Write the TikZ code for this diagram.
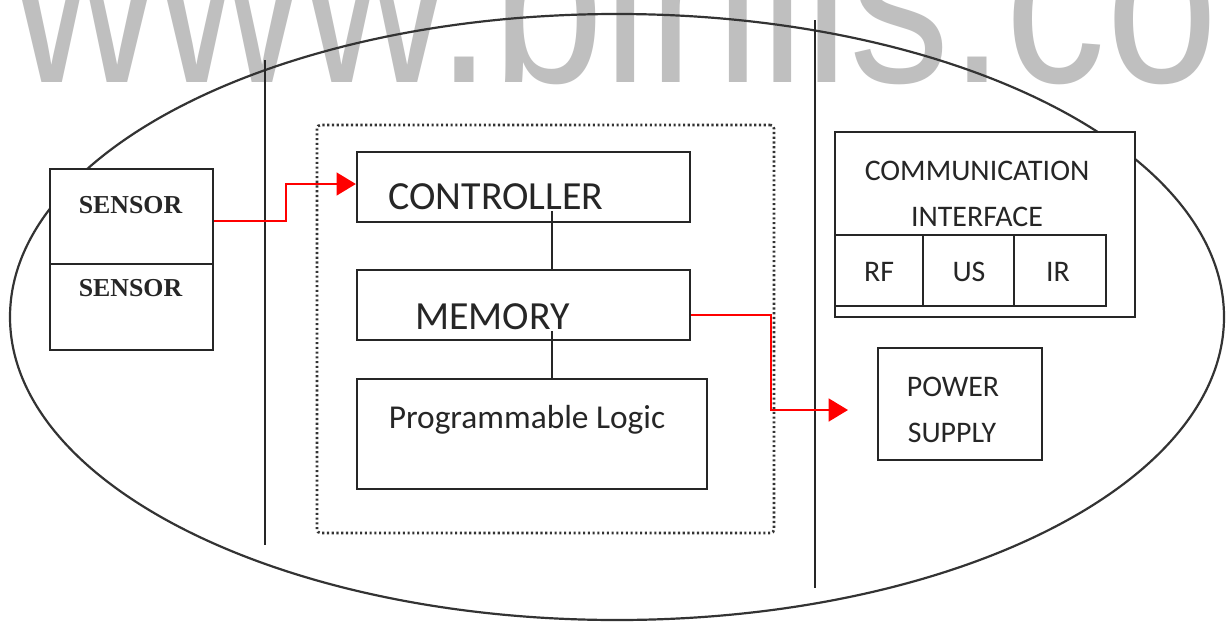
\documentclass[tikz,border=0pt]{standalone}
\usepackage{fontspec}
\setmainfont{Carlito}
\newfontfamily\wmfont{Liberation Sans}
\newfontfamily\sensfont{Liberation Serif}
\usetikzlibrary{arrows.meta,fit}
\newlength\pxu
\setlength\pxu{0.02cm}
\begin{document}
\begin{tikzpicture}[x=0.02cm,y=-0.02cm,
  box/.style={draw=black!85, line width=1.3pt, fill=white, inner sep=0pt},
  dotbox/.style={draw=black!80, line width=1.5pt, dash pattern=on 1.2pt off 1.5pt, rounded corners=2pt, inner sep=0pt},
  ell/.style={draw=black!80, line width=1.25pt},
  divider/.style={draw=black!85, line width=0.9pt},
  conn/.style={draw=black!85, line width=1pt},
  redarrow/.style={draw=red, line width=1.2pt, -{Triangle[length=11pt,width=13pt]}},
  txt/.style={text=black!85, inner sep=0pt, anchor=base},
  bigtxt/.style={txt, font=\fontsize{22.7}{27}\selectfont},
  pltxt/.style={txt, font=\fontsize{19}{23}\selectfont},
  smtxt/.style={txt, font=\fontsize{17}{20}\selectfont},
  senstxt/.style={txt, font=\sensfont\bfseries\fontsize{14.7}{17}\selectfont},
  wm/.style={text=black!25, inner sep=0pt, anchor=base west, font=\wmfont\fontsize{111}{120}\selectfont}
]
\useasboundingbox (0,0) rectangle (1226,622);
\fill[white] (0,0) rectangle (1226,622);
% watermark
\begin{scope}
\clip (0,0) rectangle (1226,622);
\node[wm] (watermark) at (12,82) {\scalebox{1.03}[1.22]{www.binils.co}};
\end{scope}
% outer ellipse and separators
\draw[ell] (617,317) ellipse [x radius=607\pxu, y radius=303\pxu];
\draw[divider] (265,60) -- (265,545);
\draw[divider] (815,20) -- (815,588);
% dotted processor box
\node[dotbox, fit={(317,125) (774,533)}] (proc) {};
% sensors
\node[box, fit={(50,169) (213,264)}] (sens1) {};
\node[box, fit={(50,264) (213,350)}] (sens2) {};
\node[senstxt] (ts1) at (130.5,213) {SENSOR};
\node[senstxt] (ts2) at (130.5,296) {SENSOR};
% controller, memory, programmable logic
\node[box, fit={(357,152) (690,222)}] (ctrl) {};
\node[box, fit={(357,270) (690,340)}] (mem) {};
\node[box, fit={(357,379) (707,489)}] (pl) {};
\node[bigtxt] (tctrl) at (496,209) {CONTROLLER};
\node[bigtxt] (tmem) at (492.5,329) {MEMORY};
\node[pltxt] (tpl) at (527,428) {Programmable Logic};
\coordinate (vx) at (552,0);
\draw[conn] ([yshift=12\pxu]ctrl.south -| vx) -- (mem.north -| vx);
\draw[conn] ([yshift=10\pxu]mem.south -| vx) -- (pl.north -| vx);
% communication interface
\node[box, fit={(835,132) (1135,317)}] (comm) {};
\node[box, fit={(835,235) (1106,306)}] (radio) {};
\draw[divider, line width=1.3pt] (923,235) -- (923,306);
\draw[divider, line width=1.3pt] (1014,235) -- (1014,306);
\node[smtxt] (tcomm) at (977,180) {COMMUNICATION};
\node[smtxt] (tint) at (977,226) {INTERFACE};
\node[smtxt] (trf) at (879,281) {RF};
\node[smtxt] (tus) at (969,281) {US};
\node[smtxt] (tir) at (1058,281) {IR};
% power supply
\node[box, fit={(878,348) (1042,460)}] (pwr) {};
\node[smtxt] (tpw) at (953,396) {POWER};
\node[smtxt] (tsup) at (952,442) {SUPPLY};
% red connectors
\coordinate (c1) at (286,184);
\draw[redarrow] ([yshift=-4.5\pxu]sens1.east) -| (c1) -- (c1 -| ctrl.west);
\coordinate (c2) at (771,410);
\coordinate (pend) at (848,410);
\draw[redarrow] ([yshift=-10\pxu]mem.east) -| (c2) -- (pend);
\end{tikzpicture}
\end{document}
